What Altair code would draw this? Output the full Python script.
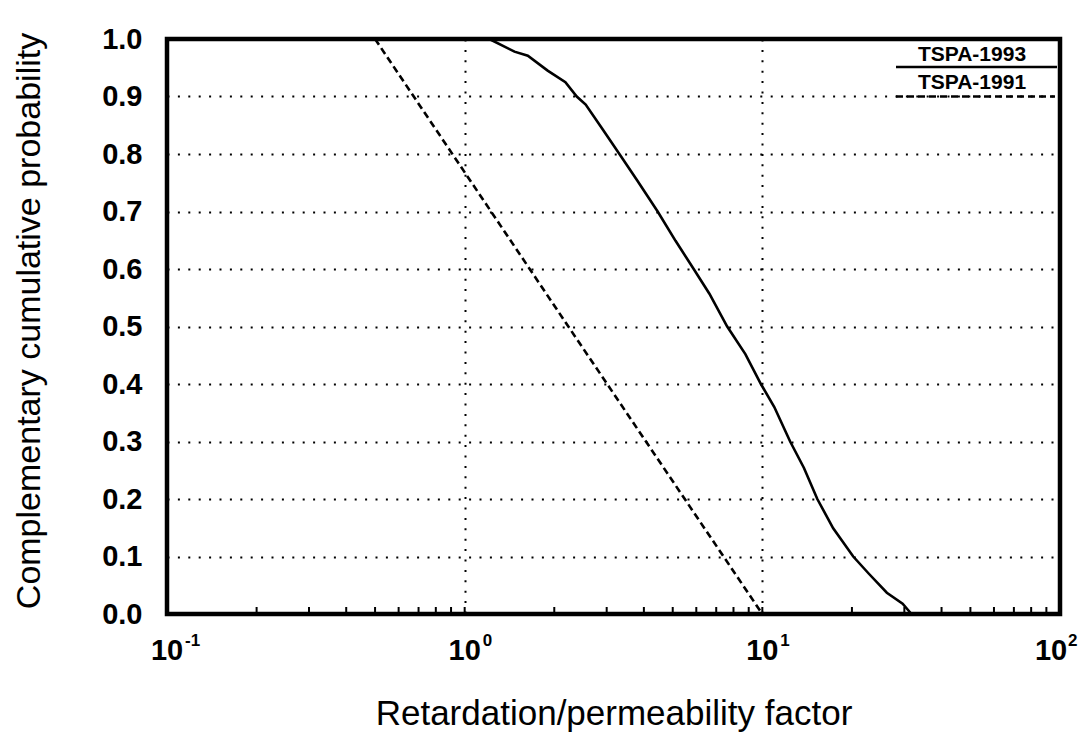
import altair as alt
import pandas as pd

# ---- data ----
x_1993 = [1.21, 1.47, 1.63, 1.90, 2.18, 2.38, 2.55, 2.88, 3.31, 3.80, 4.45, 5.11, 5.88,
          6.64, 7.62, 8.77, 9.89, 10.97, 12.4, 13.8, 15.3, 17.3, 20.2, 22.8, 26.2, 29.6, 31.7]
y_1993 = [1.0, 0.978, 0.971, 0.945, 0.925, 0.9, 0.886, 0.846, 0.8, 0.754, 0.7, 0.649, 0.6,
          0.557, 0.5, 0.452, 0.4, 0.36, 0.3, 0.254, 0.2, 0.149, 0.1, 0.07, 0.037, 0.018, 0.0]
x_1991 = [0.5, 2.23, 10.0]
y_1991 = [1.0, 0.5, 0.0]

legend_labels = ["TSPA-1993", "TSPA-1991"]
x_major = [0.1, 1, 10, 100]
x_exponents = ["-1", "0", "1", "2"]
x_minor = [0.2, 0.3, 0.4, 0.5, 0.6, 0.7, 0.8, 0.9, 1,
           2, 3, 4, 5, 6, 7, 8, 9, 10,
           20, 30, 40, 50, 60, 70, 80, 90]
y_ticks = [0.0, 0.1, 0.2, 0.3, 0.4, 0.5, 0.6, 0.7, 0.8, 0.9, 1.0]

W, H = 893, 575
FONT = "Liberation Sans"

xs = alt.Scale(type="log", domain=[0.1, 100], nice=False)
ys = alt.Scale(domain=[0, 1], nice=False)

xaxis = alt.Axis(values=x_major, labels=False, ticks=False, domain=False, grid=True,
                 gridDash=[2, 8.4], gridWidth=2, gridColor="black",
                 title="Retardation/permeability factor", titleFont=FONT,
                 titleFontSize=35, titleFontWeight="normal", titleColor="black",
                 titleX=W / 2, titleY=99, titleAlign="center", titleBaseline="middle")
yaxis = alt.Axis(values=y_ticks, format=".1f", labelFont=FONT, labelFontSize=29,
                 labelFontWeight="bold", labelColor="black", labelPadding=25,
                 labelFlush=False, labelOverlap=False, labelBound=False,
                 ticks=False, tickSize=0, domain=False, grid=True,
                 gridDash=[2, 8.4], gridWidth=2, gridColor="black",
                 title="Complementary cumulative probability", titleFont=FONT,
                 titleFontSize=34, titleFontWeight="normal", titleColor="black",
                 titleAngle=270, titleX=-138, titleY=H / 2 - 6, titleAlign="center",
                 titleBaseline="middle")

def X(field):
    return alt.X(field, type="quantitative", scale=xs, axis=xaxis)

def Y(field):
    return alt.Y(field, type="quantitative", scale=ys, axis=yaxis)

df93 = pd.DataFrame({"x": x_1993, "y": y_1993})
df91 = pd.DataFrame({"x": x_1991, "y": y_1991})

line93 = alt.Chart(df93).mark_line(color="black", strokeWidth=2.6).encode(x=X("x"), y=Y("y"))
line91 = alt.Chart(df91).mark_line(color="black", strokeWidth=2.6, strokeDash=[7, 4]).encode(
    x=X("x"), y=Y("y"))

minor = alt.Chart(pd.DataFrame({"v": x_minor})).mark_rule(color="black", strokeWidth=2).encode(
    x=X("v"), y=alt.value(H), y2=alt.value(H - 7))

lab_df = pd.DataFrame({"v": x_major, "exp": x_exponents})
inner = alt.datum.v < 50
last = alt.datum.v >= 50

def base_label(filt, dx):
    return alt.Chart(lab_df).transform_filter(filt).mark_text(
        text="10", font=FONT, fontSize=29, fontWeight="bold", color="black",
        align="center", baseline="middle", dx=dx).encode(x=X("v"), y=alt.value(H + 37))

def exp_label(filt, dx):
    return alt.Chart(lab_df).transform_filter(filt).mark_text(
        font=FONT, fontSize=17, fontWeight="bold", color="black",
        align="left", baseline="middle", dx=dx, dy=-10).encode(
        x=X("v"), y=alt.value(H + 37), text="exp:N")

lab_base = base_label(inner, 0)
lab_exp = exp_label(inner, 18)
lab_base_last = base_label(last, -9)
lab_exp_last = exp_label(last, 8)

leg1 = alt.Chart(pd.DataFrame({"t": [legend_labels[0]]})).mark_text(
    font=FONT, fontSize=21, fontWeight="bold", color="black", align="center",
    baseline="middle").encode(x=alt.value(805), y=alt.value(16), text="t:N")
leg2 = alt.Chart(pd.DataFrame({"t": [legend_labels[1]]})).mark_text(
    font=FONT, fontSize=21, fontWeight="bold", color="black", align="center",
    baseline="middle").encode(x=alt.value(805), y=alt.value(44), text="t:N")
leg1_line = alt.Chart(pd.DataFrame({"t": [legend_labels[0]]})).mark_rule(
    color="black", strokeWidth=2.6).encode(x=alt.value(729), x2=alt.value(890), y=alt.value(28))
leg2_line = alt.Chart(pd.DataFrame({"t": [legend_labels[1]]})).mark_rule(
    color="black", strokeWidth=2.6, strokeDash=[7, 4]).encode(
    x=alt.value(729), x2=alt.value(888), y=alt.value(57.5))

chart = alt.layer(line93, line91, minor, lab_base, lab_exp, lab_base_last, lab_exp_last,
                  leg1, leg2, leg1_line, leg2_line).properties(
    width=W, height=H,
    autosize=alt.AutoSizeParams(type="none"),
    padding={"left": 159, "top": 31, "right": 22, "bottom": 118},
    background="white",
).configure_view(stroke="black", strokeWidth=4.5)

chart.save("out.html", embed_options={"renderer": "svg", "actions": False})
